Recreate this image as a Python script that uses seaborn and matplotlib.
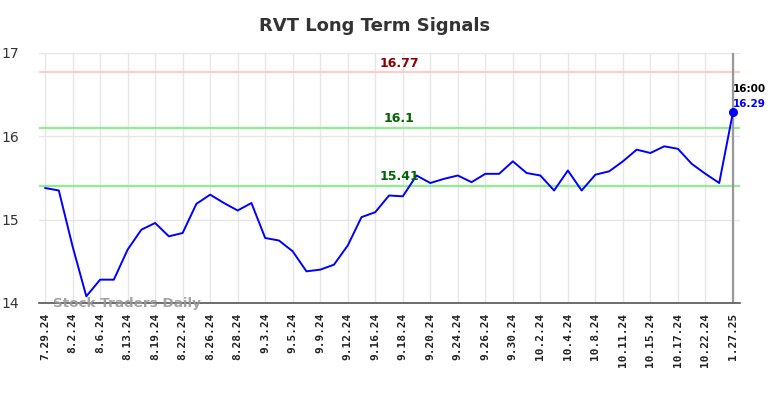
import matplotlib
matplotlib.use("Agg")
import matplotlib.pyplot as plt
import seaborn as sns
import pandas as pd

# closing prices, one per trading session (labels shown on every other point)
prices = [15.38, 15.35, 14.68, 14.08, 14.28, 14.28, 14.64, 14.88, 14.96, 14.80,
          14.84, 15.19, 15.30, 15.20, 15.11, 15.20, 14.78, 14.75, 14.62, 14.38,
          14.40, 14.46, 14.69, 15.03, 15.09, 15.29, 15.28, 15.53, 15.44, 15.49,
          15.53, 15.45, 15.55, 15.55, 15.70, 15.56, 15.53, 15.35, 15.59, 15.35,
          15.54, 15.58, 15.70, 15.84, 15.80, 15.88, 15.85, 15.67, 15.55, 15.44,
          16.29]
tick_labels = ["7.29.24", "8.2.24", "8.6.24", "8.13.24", "8.19.24", "8.22.24",
               "8.26.24", "8.28.24", "9.3.24", "9.5.24", "9.9.24", "9.12.24",
               "9.16.24", "9.18.24", "9.20.24", "9.24.24", "9.26.24", "9.30.24",
               "10.2.24", "10.4.24", "10.8.24", "10.11.24", "10.15.24", "10.17.24",
               "10.22.24", "1.27.25"]
resistance = 16.77
supports = [16.1, 15.41]
last_time = "16:00"

df = pd.DataFrame({"idx": range(len(prices)), "price": prices})

sns.set_style("white")
fig = plt.figure(figsize=(7.84, 3.98), dpi=100)
ax = fig.add_axes([39 / 784, 95 / 398, 701 / 784, 250 / 398])

sns.lineplot(data=df, x="idx", y="price", color="#0000ff", linewidth=1.4, ax=ax)
last_i = len(prices) - 1
ax.plot(last_i, prices[-1], "o", color="#0000ff", markersize=5.5)

ax.axhline(resistance, color="#ffcccc", linewidth=1.6, zorder=1)
for s in supports:
    ax.axhline(s, color="#90ee90", linewidth=1.6, zorder=1)
ax.axvline(last_i, color="#999999", linewidth=1.6, zorder=1)

mid = 25.75
ax.text(mid, resistance + 0.03, f"{resistance}", color="#8b0000", fontsize=9,
        fontweight="bold", ha="center", va="bottom")
for s in supports:
    ax.text(mid, s + 0.03, f"{s}", color="#006400", fontsize=9,
            fontweight="bold", ha="center", va="bottom")

ax.text(last_i, prices[-1] + 0.22, last_time, color="black", fontsize=7.5,
        fontweight="bold", ha="left", va="bottom")
ax.text(last_i, prices[-1] + 0.04, f"{prices[-1]}", color="#0000ff", fontsize=7.5,
        fontweight="bold", ha="left", va="bottom")

ax.text(0.6, 14.0, "Stock Traders Daily", color="#999999", fontsize=9.7,
        fontweight="bold", ha="left", va="center", alpha=0.9)

ax.set_xlim(-0.44, 50.51)
ax.set_ylim(14, 17)
ax.set_yticks([14, 15, 16, 17])
ax.set_yticklabels(["14", "15", "16", "17"], fontsize=10, color="#333333")
ax.set_xticks(range(0, len(prices), 2))
ax.set_xticklabels(tick_labels, rotation=90, fontsize=8, fontweight="bold",
                   family="DejaVu Sans Mono", color="#222222")
ax.set_xlabel("")
ax.set_ylabel("")
ax.grid(True, color="#e6e6e6", linewidth=1)
ax.tick_params(axis="x", length=0, pad=7)
ax.tick_params(axis="y", length=0, pad=14)
for side in ["top", "right", "left"]:
    ax.spines[side].set_visible(False)
ax.spines["bottom"].set_color("#555555")
ax.spines["bottom"].set_linewidth(1.2)

fig.text(375 / 784, 1 - 26 / 398, "RVT Long Term Signals", ha="center", va="center",
         fontsize=13, fontweight="bold", color="#333333")

fig.savefig("out.png", dpi=100)
